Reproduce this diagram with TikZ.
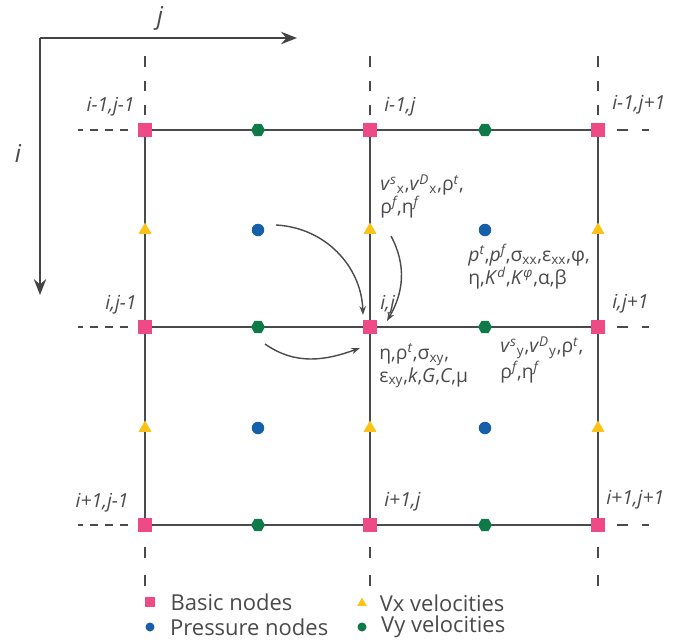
\documentclass[tikz,border=0pt]{standalone}
\usepackage{fontspec}
\setmainfont{Open Sans}
\usetikzlibrary{arrows.meta,shapes.geometric,positioning}
\definecolor{basicpink}{HTML}{EE4B86}
\definecolor{presblue}{HTML}{1560A8}
\definecolor{vygreen}{HTML}{0E7A48}
\definecolor{vxyellow}{HTML}{FBC21A}
\definecolor{gridgray}{HTML}{4A4A4A}
\newcommand{\supsb}[2]{\textsuperscript{\itshape #1}\textsubscript{#2}}
\newcommand{\sps}[1]{\textsuperscript{\itshape #1}}
\tikzset{
  basic/.style={fill=basicpink, minimum size=0.28cm, inner sep=0pt},
  pres/.style={circle, fill=presblue, minimum size=0.25cm, inner sep=0pt},
  vx/.style={regular polygon, regular polygon sides=3, fill=vxyellow, minimum size=0.3cm, inner sep=0pt},
  vy/.style={regular polygon, regular polygon sides=6, fill=vygreen, minimum size=0.28cm, inner sep=0pt},
  gridline/.style={gridgray, line width=1.1pt},
  ext/.style={gridgray, line width=0.8pt},
  axis/.style={gridgray!90!black, line width=1.4pt, -{Stealth[length=9pt,width=7pt]}},
  curve/.style={gridgray, line width=0.8pt, -{Stealth[length=5pt,width=3.6pt]}},
  lbl/.style={font=\fontsize{11}{13}\selectfont\itshape, text=gridgray, inner sep=0pt},
  formula/.style={font=\fontsize{11}{13}\selectfont, text=gridgray, inner sep=0pt, align=left},
  legtxt/.style={font=\fontsize{12.5}{14}\selectfont, text=gridgray, inner sep=0pt}
}
\begin{document}
\begin{tikzpicture}[x=0.02cm,y=-0.02cm]
\useasboundingbox (0,0) rectangle (690,643);
% Axes
\coordinate (origin) at (40,38);
\coordinate (jend) at (297,38);
\coordinate (iend) at (40,295);
\draw[axis] (origin) -- (jend);
\draw[axis] (origin) -- (iend);
\node[lbl, font=\fontsize{14}{16}\selectfont\itshape] (jlbl) at (160,18) {j};
\node[lbl, font=\fontsize{14}{16}\selectfont\itshape] (ilbl) at (18,153) {i};
% Basic nodes
\foreach \r/\y in {0/130,1/327,2/525} {
  \foreach \c/\x in {0/145,1/370,2/598} {
    \node[basic] (b\r\c) at (\x,\y) {};
  }
}
% Grid lines
\foreach \k in {0,1,2} {
  \draw[gridline] (b\k0) -- (b\k1) -- (b\k2);
  \draw[gridline] (b0\k) -- (b1\k) -- (b2\k);
}
% Dashed continuation
\foreach \k in {0,1,2} {
  \draw[ext, dash pattern=on 5.7pt off 8pt] (b0\k.north) ++(0,-8) -- ++(0,-68);
  \draw[ext, dash pattern=on 6.2pt off 9.6pt] (b2\k.south) ++(0,15) -- ++(0,40);
  \draw[ext, dash pattern=on 4.5pt off 4pt] (b\k0.west) ++(-10,0) -- ++(-50,0);
  \draw[ext, dash pattern=on 6.2pt off 8pt] (b\k2.east) ++(12,0) -- ++(32,0);
}
% Vx velocities
\foreach \r/\y in {0/230,1/428} {
  \foreach \c/\x in {0/145,1/370,2/598} {
    \node[vx] (u\r\c) at (\x,\y) {};
  }
}
% Vy velocities
\foreach \r/\y in {0/130,1/327,2/525} {
  \foreach \c/\x in {0/258,1/485} {
    \node[vy] (g\r\c) at (\x,\y) {};
  }
}
% Pressure nodes
\foreach \r/\y in {0/230,1/428} {
  \foreach \c/\x in {0/258,1/485} {
    \node[pres] (p\r\c) at (\x,\y) {};
  }
}
% Node indices
\node[lbl, anchor=south east] (l00) at ([shift={(-10,-14)}]b00.center) {i-1,j-1};
\node[lbl, anchor=south west] (l01) at ([shift={(14,-14)}]b01.center) {i-1,j};
\node[lbl, anchor=south west] (l02) at ([shift={(14,-16)}]b02.center) {i-1,j+1};
\node[lbl, anchor=south east] (l10) at ([shift={(-8,-13)}]b10.center) {i,j-1};
\node[lbl, anchor=south west] (l11) at ([shift={(10,-13)}]b11.center) {i,j};
\node[lbl, anchor=south west] (l12) at ([shift={(14,-14)}]b12.center) {i,j+1};
\node[lbl, anchor=south east] (l20) at ([shift={(-16,-13)}]b20.center) {i+1,j-1};
\node[lbl, anchor=south west] (l21) at ([shift={(14,-14)}]b21.center) {i+1,j};
\node[lbl, anchor=south west] (l22) at ([shift={(8,-16)}]b22.center) {i+1,j+1};
% Stored variables
\node[formula, anchor=north west] (vxtxt) at (380,174) {\textit{v}\supsb{s}{x},\textit{v}\supsb{D}{x},ρ\sps{t},\\ρ\sps{f},η\sps{f}};
\node[formula, anchor=north west] (prtxt) at (468,244) {\textit{p}\sps{t},\textit{p}\sps{f},σ\textsubscript{xx},ε\textsubscript{xx},φ,\\η,\textit{K}\sps{d},\textit{K}\sps{φ},α,β};
\node[formula, anchor=north west] (bstxt) at (379,343) {η,ρ\sps{t},σ\textsubscript{xy},\\ε\textsubscript{xy},\textit{k},\textit{G},\textit{C},μ};
\node[formula, anchor=north west] (vytxt) at (500,336) {\textit{v}\supsb{s}{y},\textit{v}\supsb{D}{y},ρ\sps{t},\\ρ\sps{f},η\sps{f}};
% Interpolation arrows
\draw[curve] ([shift={(18,-5)}]p00.center) to[out=-3,in=92] ([shift={(-7,-12)}]b11.center);
\draw[curve] ([shift={(7,17)}]g10.center) to[out=-35,in=200] ([shift={(-10,21)}]b11.center);
\draw[curve] ([shift={(21,6)}]u01.center) to[out=-62,in=60] ([shift={(17,-6)}]b11.center);
% Legend
\node[basic, minimum size=0.2cm] (kb) at (150,602) {};
\node[legtxt, anchor=west, right=0.3cm of kb] (kbt) {Basic nodes};
\node[pres, minimum size=0.18cm] (kp) at (150,627) {};
\node[legtxt, anchor=west, right=0.3cm of kp] (kpt) {Pressure nodes};
\node[vx, minimum size=0.22cm] (kx) at (362,603) {};
\node[legtxt, anchor=west, right=0.28cm of kx] (kxt) {Vx velocities};
\node[circle, fill=vygreen, minimum size=0.18cm, inner sep=0pt] (ky) at (362,627) {};
\node[legtxt, anchor=west, right=0.28cm of ky] (kyt) {Vy velocities};
\end{tikzpicture}
\end{document}
